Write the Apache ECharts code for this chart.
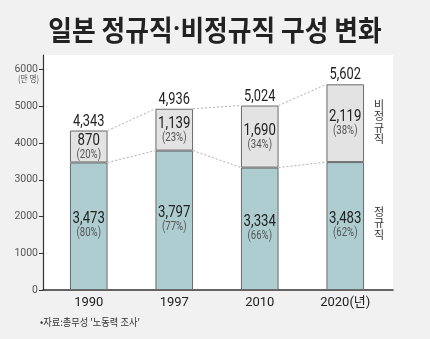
<!DOCTYPE html>
<html><head><meta charset="utf-8">
<script src="https://cdn.jsdelivr.net/npm/echarts@6/dist/echarts.min.js"></script>
<style>html,body{margin:0;padding:0;background:#f1f1f1;}#c{width:430px;height:339px;}</style>
</head><body><div id="c"></div>
<script>
const categories = ['1990', '1997', '2010', '2020(년)'];
const regular = [3473, 3797, 3334, 3483];
const nonRegular = [870, 1139, 1690, 2119];
const totals = [4343, 4936, 5024, 5602];
const regularPct = [80, 77, 66, 62];
const nonRegularPct = [20, 23, 34, 38];
const yTicks = [0, 1000, 2000, 3000, 4000, 5000, 6000];

const NUM = "Roboto,'Noto Sans CJK KR',sans-serif";
const KR = "'Noto Sans CJK KR',sans-serif";
const fmt = v => String(v).replace(/\B(?=(\d{3})+(?!\d))/g, ',');

const links = [];
for (let i = 0; i < categories.length - 1; i++) {
  links.push([i, i + 1, totals[i], totals[i + 1]]);
  links.push([i, i + 1, regular[i], regular[i + 1]]);
}
const labelData = categories.map((c, i) => [i, regular[i], totals[i]]);

function txt(x, y, text, size, color, sx) {
  return {type: 'text', x: x, y: y, scaleX: sx, z2: 10,
          style: {text: text, fontSize: size, fontFamily: NUM, fill: color, align: 'center', verticalAlign: 'middle'}};
}

const chart = echarts.init(document.getElementById('c'), null, {renderer: 'canvas'});
const BW = 0.44;
chart.setOption({
  backgroundColor: '#f1f1f1',
  animation: false,
  grid: [
    {left: 43, right: 37, top: 55, bottom: 49, show: true, backgroundColor: '#ffffff', borderWidth: 0},
    {left: 46, right: 42, top: 55, bottom: 49}
  ],
  xAxis: [
    {gridIndex: 0, type: 'value', min: 0, max: 1, axisLine: {show: true, onZero: false, lineStyle: {color: '#333', width: 1.5}},
     axisTick: {show: false}, axisLabel: {show: false}, splitLine: {show: false}},
    {gridIndex: 1, type: 'category', data: categories, axisLine: {show: false}, axisTick: {show: false},
     axisLabel: {color: '#222', fontSize: 13, fontFamily: NUM, margin: 6}}
  ],
  yAxis: [
    {gridIndex: 0, type: 'value', min: 0, max: 6400, interval: 1000,
     axisLine: {show: true, lineStyle: {color: '#333', width: 1.2}},
     axisTick: {show: true, length: 4, customValues: yTicks, lineStyle: {color: '#333'}},
     axisLabel: {customValues: yTicks, formatter: v => String(v), color: '#555', fontSize: 10.5, fontFamily: NUM, margin: 5},
     splitLine: {show: false}},
    {gridIndex: 1, type: 'value', min: 0, max: 6400, show: false}
  ],
  series: [
    {type: 'custom', xAxisIndex: 1, yAxisIndex: 1, z: 1, data: links,
     renderItem: function (params, api) {
       const p1 = api.coord([api.value(0), api.value(2)]);
       const p2 = api.coord([api.value(1), api.value(3)]);
       const half = api.size([1, 0])[0] * BW / 2;
       return {type: 'line', shape: {x1: p1[0] + half, y1: p1[1], x2: p2[0] - half, y2: p2[1]},
               style: {stroke: '#b0b0b0', lineWidth: 1, lineDash: [2, 2]}};
     }},
    {type: 'bar', name: '정규직', xAxisIndex: 1, yAxisIndex: 1, stack: 't', barWidth: (BW * 100) + '%', z: 3,
     data: regular, itemStyle: {color: '#aecdd1', borderColor: '#6a6a6a', borderWidth: 1}},
    {type: 'bar', name: '비정규직', xAxisIndex: 1, yAxisIndex: 1, stack: 't', barWidth: (BW * 100) + '%', z: 3,
     data: nonRegular, itemStyle: {color: '#e3e3e3', borderColor: '#6a6a6a', borderWidth: 1}},
    {type: 'custom', xAxisIndex: 1, yAxisIndex: 1, z: 5, data: labelData,
     renderItem: function (params, api) {
       const i = params.dataIndex;
       const x = api.value(0);
       const base = api.coord([x, 0]);
       const rTop = api.coord([x, api.value(1)]);
       const tTop = api.coord([x, api.value(2)]);
       const cx = base[0];
       const rMid = (base[1] + rTop[1]) / 2;
       const nMid = (rTop[1] + tTop[1]) / 2;
       return {type: 'group', children: [
         txt(cx, rMid - 7, fmt(regular[i]), 16.5, '#222', 0.8),
         txt(cx, rMid + 7, '(' + regularPct[i] + '%)', 12, '#555', 0.8),
         txt(cx, nMid - 6, fmt(nonRegular[i]), 16.5, '#222', 0.8),
         txt(cx, nMid + 8, '(' + nonRegularPct[i] + '%)', 12, '#555', 0.8),
         txt(cx, tTop[1] - 9, fmt(totals[i]), 16, '#222', 0.8)
       ]};
     }}
  ],
  graphic: [
    {type: 'text', x: 215, y: 30, scaleX: 0.92,
     style: {text: '{a|일본 정규직}{d|·}{a|비정규직 구성 변화}', align: 'center', verticalAlign: 'middle',
       rich: {a: {fontSize: 28, fontWeight: 'bold', fontFamily: KR, fill: '#222'},
              d: {fontSize: 28, fontWeight: 'bold', fontFamily: 'Roboto', fill: '#222'}}}},
    {type: 'text', x: 39, y: 79, scaleX: 0.85,
     style: {text: '(만 명)', fontSize: 9, fontFamily: KR, fill: '#555', align: 'right', verticalAlign: 'middle'}},
    {type: 'text', x: 379, y: 99,
     style: {text: '비\n정\n규\n직', fontSize: 11, lineHeight: 11.5, fontFamily: KR, fill: '#333', align: 'center'}},
    {type: 'text', x: 379, y: 206,
     style: {text: '정\n규\n직', fontSize: 11, lineHeight: 11.5, fontFamily: KR, fill: '#333', align: 'center'}},
    {type: 'text', x: 40, y: 322, scaleX: 0.88,
     style: {text: "•자료:총무성 '노동력 조사'", fontSize: 10.5, fontFamily: KR, fill: '#333', verticalAlign: 'middle'}}
  ]
});
</script></body></html>
